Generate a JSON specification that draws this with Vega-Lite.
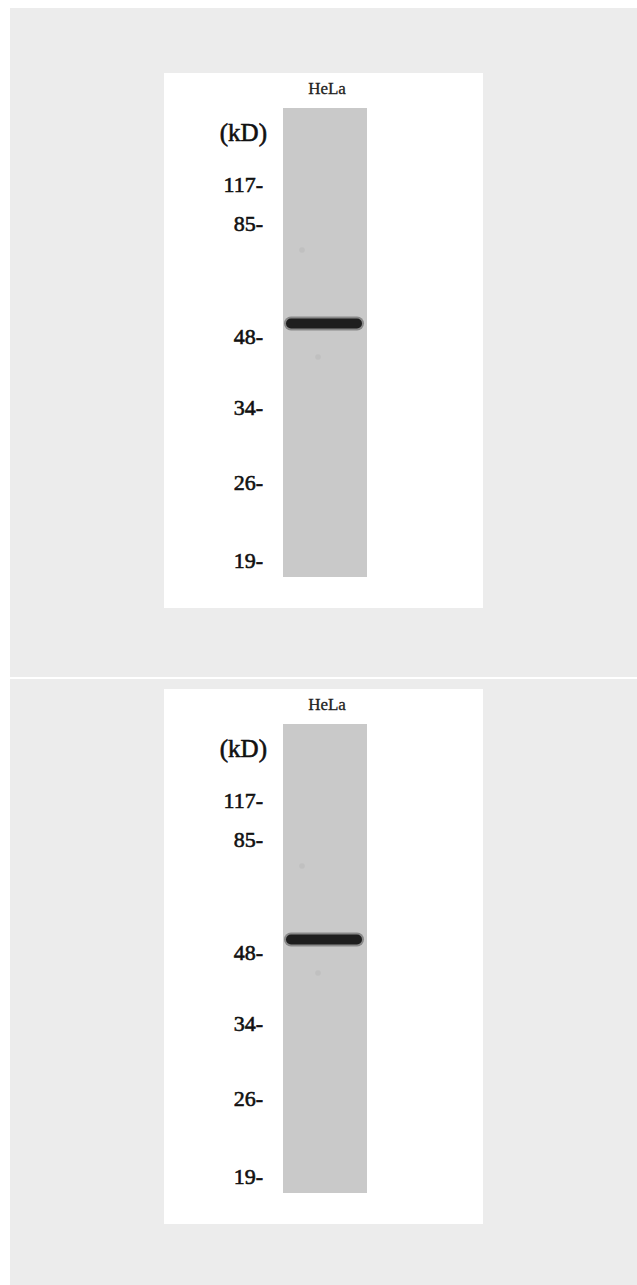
{
  "$schema": "https://vega.github.io/schema/vega-lite/v6.json",
  "background": "#ffffff",
  "padding": {"left": 10, "top": 8, "right": 0, "bottom": 0},
  "spacing": 2,
  "config": {"view": {"fill": "#ececec", "stroke": null}},
  "datasets": {
    "markers": [
      {"kD": 117, "label": "117-", "mig": 77},
      {"kD": 85, "label": "85-", "mig": 116},
      {"kD": 48, "label": "48-", "mig": 229},
      {"kD": 34, "label": "34-", "mig": 300},
      {"kD": 26, "label": "26-", "mig": 375},
      {"kD": 19, "label": "19-", "mig": 453}
    ],
    "bands": [
      {"lane": "HeLa", "from": 8, "to": 74, "mig": 215.5}
    ],
    "spots": [
      {"lane": "HeLa", "x": 19, "mig": 142},
      {"lane": "HeLa", "x": 35, "mig": 249}
    ],
    "one": [{"id": 1}]
  },
  "resolve": {"scale": {"x": "independent", "y": "independent"}},
  "vconcat": [
    {
      "width": 627,
      "height": 669,
      "layer": [
        {
          "data": {"name": "one"},
          "mark": {"type": "rect", "color": "#ffffff"},
          "encoding": {
            "x": {"datum": -119, "type": "quantitative", "scale": {"domain": [-273, 354], "nice": false, "zero": false}, "axis": null},
            "x2": {"datum": 200},
            "y": {"datum": -35, "type": "quantitative", "scale": {"domain": [-100, 569], "nice": false, "zero": false, "reverse": true}, "axis": null},
            "y2": {"datum": 500}
          }
        },
        {
          "data": {"name": "one"},
          "mark": {"type": "rect", "color": "#c9c9c9"},
          "encoding": {
            "x": {"datum": 0, "type": "quantitative"},
            "x2": {"datum": 84},
            "y": {"datum": 0, "type": "quantitative"},
            "y2": {"datum": 469}
          }
        },
        {
          "data": {"name": "spots"},
          "mark": {"type": "circle", "color": "#b8b8b8", "opacity": 0.5, "size": 30},
          "encoding": {
            "x": {"field": "x", "type": "quantitative"},
            "y": {"field": "mig", "type": "quantitative"}
          }
        },
        {
          "data": {"name": "bands"},
          "mark": {"type": "rule", "color": "#3a3a3a", "opacity": 0.45, "strokeWidth": 14, "strokeCap": "round"},
          "encoding": {
            "x": {"field": "from", "type": "quantitative"},
            "x2": {"field": "to"},
            "y": {"field": "mig", "type": "quantitative"}
          }
        },
        {
          "data": {"name": "bands"},
          "mark": {"type": "rule", "color": "#1e1e1e", "strokeWidth": 10, "strokeCap": "round"},
          "encoding": {
            "x": {"field": "from", "type": "quantitative"},
            "x2": {"field": "to"},
            "y": {"field": "mig", "type": "quantitative"}
          }
        },
        {
          "data": {"name": "markers"},
          "mark": {"type": "text", "align": "right", "baseline": "middle", "font": "Liberation Serif", "fontSize": 22, "color": "#111111", "stroke": "#111111", "strokeWidth": 0.6},
          "encoding": {
            "x": {"datum": -20, "type": "quantitative"},
            "y": {"field": "mig", "type": "quantitative"},
            "text": {"field": "label"}
          }
        },
        {
          "data": {"name": "one"},
          "mark": {"type": "text", "align": "right", "baseline": "middle", "font": "Liberation Serif", "fontSize": 25, "color": "#111111", "stroke": "#111111", "strokeWidth": 0.6, "text": "(kD)"},
          "encoding": {
            "x": {"datum": -16, "type": "quantitative"},
            "y": {"datum": 25, "type": "quantitative"}
          }
        },
        {
          "data": {"name": "bands"},
          "mark": {"type": "text", "align": "center", "baseline": "middle", "font": "Liberation Serif", "fontSize": 17, "color": "#222222", "stroke": "#222222", "strokeWidth": 0.3},
          "encoding": {
            "x": {"datum": 44, "type": "quantitative"},
            "y": {"datum": -19, "type": "quantitative"},
            "text": {"field": "lane"}
          }
        }
      ]
    },
    {
      "width": 627,
      "height": 606,
      "layer": [
        {
          "data": {"name": "one"},
          "mark": {"type": "rect", "color": "#ffffff"},
          "encoding": {
            "x": {"datum": -119, "type": "quantitative", "scale": {"domain": [-273, 354], "nice": false, "zero": false}, "axis": null},
            "x2": {"datum": 200},
            "y": {"datum": -35, "type": "quantitative", "scale": {"domain": [-45, 561], "nice": false, "zero": false, "reverse": true}, "axis": null},
            "y2": {"datum": 500}
          }
        },
        {
          "data": {"name": "one"},
          "mark": {"type": "rect", "color": "#c9c9c9"},
          "encoding": {
            "x": {"datum": 0, "type": "quantitative"},
            "x2": {"datum": 84},
            "y": {"datum": 0, "type": "quantitative"},
            "y2": {"datum": 469}
          }
        },
        {
          "data": {"name": "spots"},
          "mark": {"type": "circle", "color": "#b8b8b8", "opacity": 0.5, "size": 30},
          "encoding": {
            "x": {"field": "x", "type": "quantitative"},
            "y": {"field": "mig", "type": "quantitative"}
          }
        },
        {
          "data": {"name": "bands"},
          "mark": {"type": "rule", "color": "#3a3a3a", "opacity": 0.45, "strokeWidth": 14, "strokeCap": "round"},
          "encoding": {
            "x": {"field": "from", "type": "quantitative"},
            "x2": {"field": "to"},
            "y": {"field": "mig", "type": "quantitative"}
          }
        },
        {
          "data": {"name": "bands"},
          "mark": {"type": "rule", "color": "#1e1e1e", "strokeWidth": 10, "strokeCap": "round"},
          "encoding": {
            "x": {"field": "from", "type": "quantitative"},
            "x2": {"field": "to"},
            "y": {"field": "mig", "type": "quantitative"}
          }
        },
        {
          "data": {"name": "markers"},
          "mark": {"type": "text", "align": "right", "baseline": "middle", "font": "Liberation Serif", "fontSize": 22, "color": "#111111", "stroke": "#111111", "strokeWidth": 0.6},
          "encoding": {
            "x": {"datum": -20, "type": "quantitative"},
            "y": {"field": "mig", "type": "quantitative"},
            "text": {"field": "label"}
          }
        },
        {
          "data": {"name": "one"},
          "mark": {"type": "text", "align": "right", "baseline": "middle", "font": "Liberation Serif", "fontSize": 25, "color": "#111111", "stroke": "#111111", "strokeWidth": 0.6, "text": "(kD)"},
          "encoding": {
            "x": {"datum": -16, "type": "quantitative"},
            "y": {"datum": 25, "type": "quantitative"}
          }
        },
        {
          "data": {"name": "bands"},
          "mark": {"type": "text", "align": "center", "baseline": "middle", "font": "Liberation Serif", "fontSize": 17, "color": "#222222", "stroke": "#222222", "strokeWidth": 0.3},
          "encoding": {
            "x": {"datum": 44, "type": "quantitative"},
            "y": {"datum": -19, "type": "quantitative"},
            "text": {"field": "lane"}
          }
        }
      ]
    }
  ]
}
